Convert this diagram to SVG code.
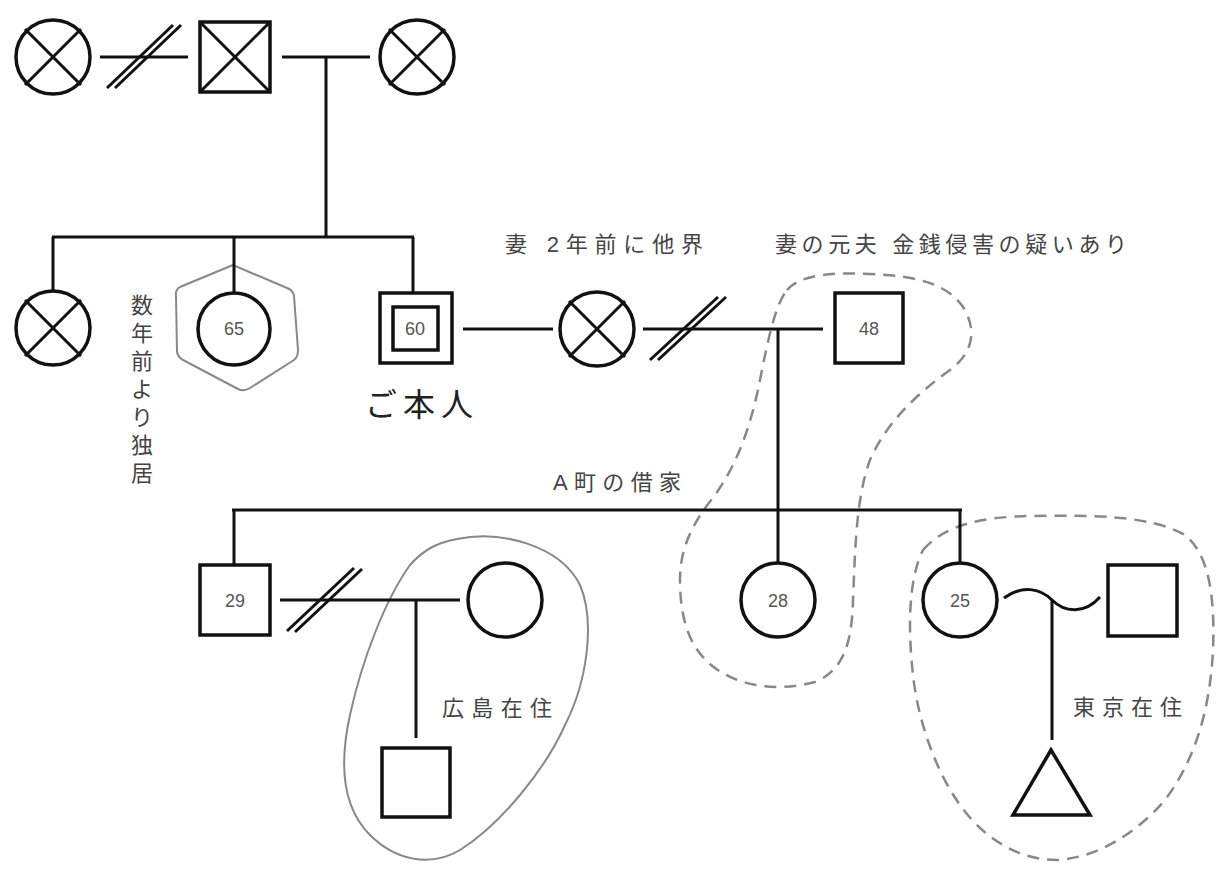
<svg xmlns="http://www.w3.org/2000/svg" width="1225" height="875" viewBox="0 0 1225 875">
<style>
.n{fill:#fff;stroke:#111;stroke-width:3.5}
.x{stroke:#111;stroke-width:3;fill:none}
.c{stroke:#111;stroke-width:3;fill:none}
.age{font-family:"Liberation Sans",Arial,sans-serif;font-size:18px;fill:#555;text-anchor:middle;dominant-baseline:central}
.lbl{font-family:"Liberation Sans","Noto Sans CJK JP",sans-serif;font-size:22px;fill:#444}
.solid{fill:none;stroke:#888;stroke-width:2}
.dash{fill:none;stroke:#888;stroke-width:2.5;stroke-dasharray:12 8}
</style>
<rect width="1225" height="875" fill="#fff"/>

<g id="outlines">
<path class="solid" d="M233,265 L180,287 Q175,290 176,296 L177,352 Q178,358 185,361 L238,389 Q244,392 250,388 L294,360 Q298,357 298,350 L294,296 Q293,290 287,288 Z"/>
<path class="solid" d="M457,539 C500,530 560,545 580,585 C595,620 588,680 565,725 C545,770 500,825 460,850 C430,868 395,860 370,835 C340,805 340,760 350,715 C362,660 385,600 410,565 C425,548 440,542 457,539 Z"/>
<path class="dash" d="M787,290 C800,275 830,272 870,274 C920,276 950,285 965,310 C978,335 970,355 950,370 C915,395 885,425 870,460 C855,500 855,560 853,600 C852,640 845,670 815,682 C785,690 745,690 715,668 C690,650 680,620 680,580 C680,545 695,520 715,495 C740,460 752,420 760,380 C768,340 775,305 787,290 Z"/>
<path class="dash" d="M923,550 C945,525 980,517 1030,516 C1090,515 1150,515 1185,535 C1210,555 1215,600 1213,650 C1210,710 1195,760 1165,800 C1135,835 1095,858 1057,860 C1020,860 985,840 960,805 C935,770 918,720 913,675 C908,630 908,580 923,550 Z"/>
</g>

<g id="connectors">
<line class="c" x1="100" y1="57" x2="188" y2="57"/>
<line class="c" x1="107" y1="88" x2="173" y2="25"/>
<line class="c" x1="115" y1="88" x2="181" y2="25"/>
<line class="c" x1="282" y1="57" x2="370" y2="57"/>
<line class="c" x1="326" y1="57" x2="326" y2="237"/>
<line class="c" x1="52" y1="237" x2="414" y2="237"/>
<line class="c" x1="53" y1="237" x2="53" y2="290"/>
<line class="c" x1="234" y1="237" x2="234" y2="292"/>
<line class="c" x1="413" y1="237" x2="413" y2="293"/>
<line class="c" x1="463" y1="329" x2="553" y2="329"/>
<line class="c" x1="643" y1="329" x2="823" y2="329"/>
<line class="c" x1="650" y1="360" x2="718" y2="297"/>
<line class="c" x1="658" y1="360" x2="726" y2="297"/>
<line class="c" x1="778" y1="329" x2="778" y2="563"/>
<line class="c" x1="232" y1="510" x2="962" y2="510"/>
<line class="c" x1="234" y1="510" x2="234" y2="565"/>
<line class="c" x1="960" y1="510" x2="960" y2="563"/>
<line class="c" x1="280" y1="600" x2="460" y2="600"/>
<line class="c" x1="287" y1="631" x2="354" y2="568"/>
<line class="c" x1="295" y1="632" x2="362" y2="569"/>
<line class="c" x1="416" y1="600" x2="416" y2="738"/>
<path class="c" d="M1004,598 C1022,585 1040,588 1052,600 C1065,613 1085,614 1100,597"/>
<line class="c" x1="1052" y1="600" x2="1052" y2="740"/>
</g>

<g id="gf1"><circle class="n" cx="53" cy="57" r="37"/><path class="x" d="M25,29 L81,85 M81,29 L25,85"/></g>
<g id="gf"><rect class="n" x="200" y="22" width="70" height="70"/><path class="x" d="M200,22 L270,92 M270,22 L200,92"/></g>
<g id="gm"><circle class="n" cx="417" cy="57" r="37"/><path class="x" d="M389,29 L445,85 M445,29 L389,85"/></g>

<g id="sib1"><circle class="n" cx="53" cy="328" r="37"/><path class="x" d="M25,300 L81,356 M81,300 L25,356"/></g>
<g id="sib65"><circle class="n" cx="234" cy="329" r="36"/><text class="age" x="234" y="329">65</text></g>
<g id="self"><rect class="n" x="380" y="293" width="72" height="70" stroke-width="4"/><rect class="n" x="393" y="307" width="45" height="43"/><text class="age" x="415" y="329">60</text></g>
<g id="wife"><circle class="n" cx="597" cy="329" r="37"/><path class="x" d="M569,301 L625,357 M625,301 L569,357"/></g>
<g id="exh"><rect class="n" x="835" y="293" width="68" height="70"/><text class="age" x="869" y="329">48</text></g>

<g id="c29"><rect class="n" x="200" y="565" width="70" height="70"/><text class="age" x="235" y="601">29</text></g>
<g id="c29w"><circle class="n" cx="505" cy="600" r="37"/></g>
<g id="c29s"><rect class="n" x="382" y="748" width="68" height="69"/></g>
<g id="c28"><circle class="n" cx="778" cy="600" r="37"/><text class="age" x="778" y="601">28</text></g>
<g id="c25"><circle class="n" cx="960" cy="600" r="37"/><text class="age" x="960" y="601">25</text></g>
<g id="c25p"><rect class="n" x="1108" y="565" width="69" height="71"/></g>
<g id="c25c"><polygon class="n" points="1051,750 1013,815 1090,815" stroke-linejoin="miter"/></g>

<g id="labels">
<text class="lbl" x="505" y="252" textLength="198" lengthAdjust="spacing">妻 2年前に他界</text>
<text class="lbl" x="775" y="252" textLength="352" lengthAdjust="spacing">妻の元夫 金銭侵害の疑いあり</text>
<text class="lbl" x="553" y="490" textLength="128" lengthAdjust="spacing">A町の借家</text>
<text class="lbl" x="442" y="716" textLength="110" lengthAdjust="spacing">広島在住</text>
<text class="lbl" x="1073" y="715" textLength="109" lengthAdjust="spacing">東京在住</text>
<text class="lbl" text-anchor="middle" font-size="23"><tspan x="142" y="313">数</tspan><tspan x="142" y="341">年</tspan><tspan x="142" y="369">前</tspan><tspan x="142" y="397">よ</tspan><tspan x="142" y="425">り</tspan><tspan x="142" y="453">独</tspan><tspan x="142" y="481">居</tspan></text>
<text x="365" y="416" font-family="'Noto Sans CJK JP',sans-serif" font-size="32" fill="#222" textLength="108" lengthAdjust="spacing">ご本人</text>
</g>
</svg>
